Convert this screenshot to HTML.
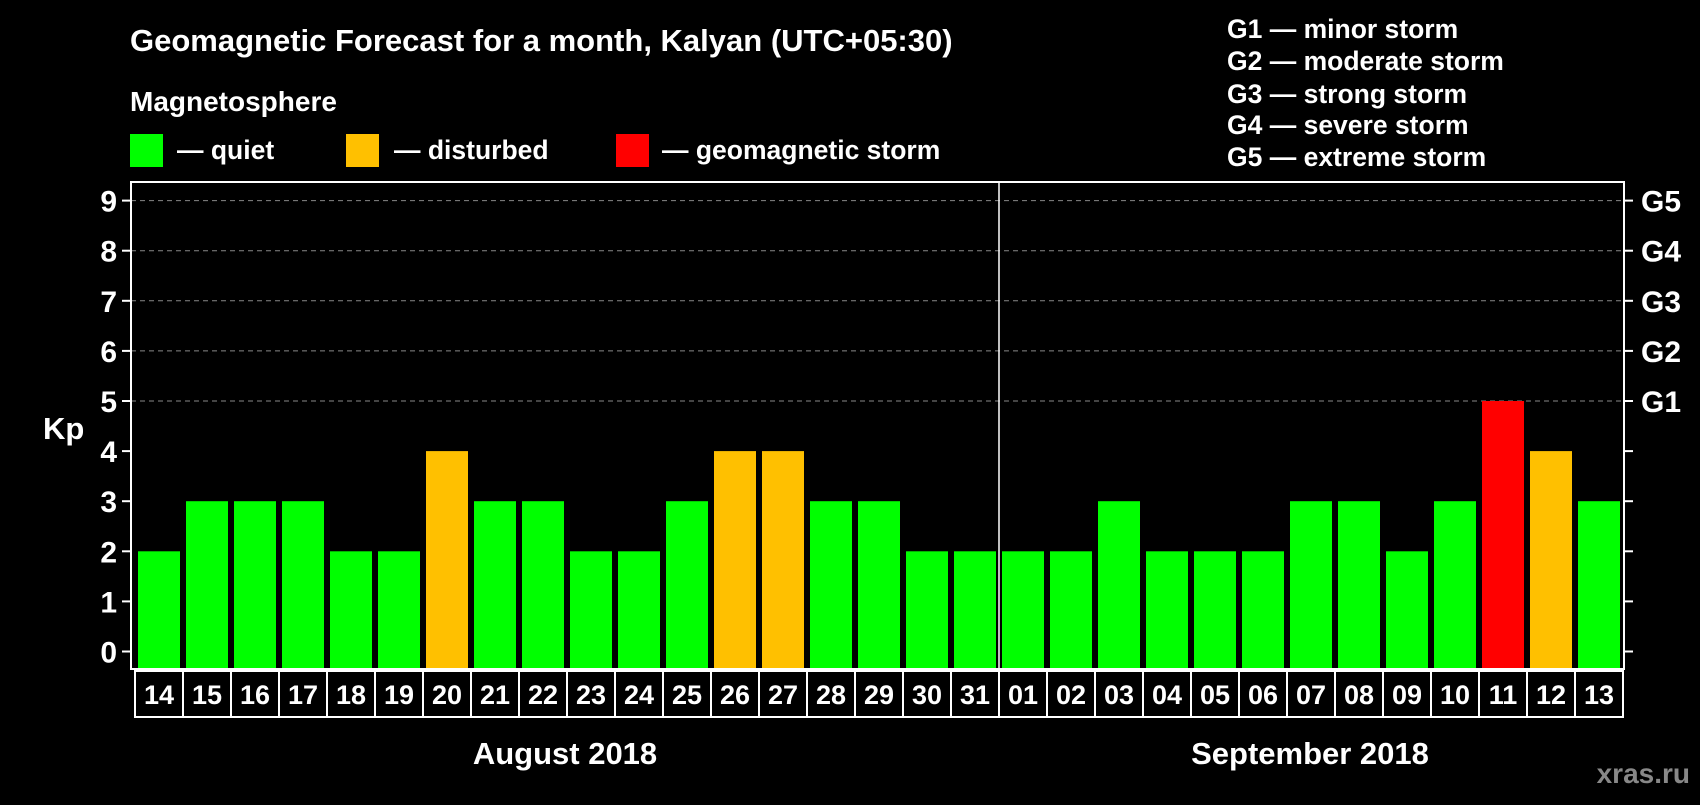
<!DOCTYPE html>
<html><head><meta charset="utf-8"><style>
body{margin:0;background:#000;width:1700px;height:800px;overflow:hidden;font-family:"Liberation Sans",sans-serif;}
</style></head><body>
<svg id="chart" width="1700" height="800" xmlns="http://www.w3.org/2000/svg" font-family="Liberation Sans, sans-serif" font-weight="bold">
<rect width="1700" height="800" fill="#000"/>
<text x="130" y="51" fill="#fff" font-size="31">Geomagnetic Forecast for a month, Kalyan (UTC+05:30)</text>
<text x="130" y="111" fill="#fff" font-size="28">Magnetosphere</text>
<g><rect x="130" y="134" width="33" height="33" fill="#00ff00"/><text x="177" y="159" fill="#fff" font-size="26.5">— quiet</text></g>
<g><rect x="346" y="134" width="33" height="33" fill="#ffc000"/><text x="394" y="159" fill="#fff" font-size="26.5">— disturbed</text></g>
<g><rect x="616" y="134" width="33" height="33" fill="#ff0000"/><text x="662" y="159" fill="#fff" font-size="26.5">— geomagnetic storm</text></g>
<g fill="#fff" font-size="26.5">
<text x="1227" y="38">G1 — minor storm</text>
<text x="1227" y="70">G2 — moderate storm</text>
<text x="1227" y="103">G3 — strong storm</text>
<text x="1227" y="134">G4 — severe storm</text>
<text x="1227" y="166">G5 — extreme storm</text>
</g>
<text x="43" y="439" fill="#fff" font-size="31">Kp</text>
<text x="565" y="764" fill="#fff" font-size="31" text-anchor="middle">August 2018</text>
<text x="1310" y="764" fill="#fff" font-size="31" text-anchor="middle">September 2018</text>
<text x="1690" y="783" fill="#888" font-size="28" text-anchor="end">xras.ru</text>
<g id="plot"></g>
</svg>
<script>
const days = ["14","15","16","17","18","19","20","21","22","23","24","25","26","27","28","29","30","31","01","02","03","04","05","06","07","08","09","10","11","12","13"];
const kpValues = [2,3,3,3,2,2,4,3,3,2,2,3,4,4,3,3,2,2,2,2,3,2,2,2,3,3,2,3,5,4,3];
const yTicks = [0,1,2,3,4,5,6,7,8,9];
const gLabels = ["G1","G2","G3","G4","G5"];
const gLevels = [5,6,7,8,9];
const NS="http://www.w3.org/2000/svg";
const g=document.getElementById('plot');
const L=131,R=1624,T=182,B=669, cell0=135, cellW=48;
const y=v=>651.5-v*50.1;
const xCell=i=>cell0+i*cellW;
function mk(tag,attrs,parent){const e=document.createElementNS(NS,tag);for(const k in attrs)e.setAttribute(k,attrs[k]);(parent||g).appendChild(e);return e;}
yTicks.forEach(v=>{
  if(v>=5){const gl=mk('line',{x1:L,x2:R,y1:y(v),y2:y(v),stroke:'#888','stroke-dasharray':'5,4','stroke-width':1});
  
  }
  const t1=mk('line',{x1:L-9,x2:L,y1:y(v),y2:y(v),stroke:'#fff','stroke-width':2});
  
  
  const t2=mk('line',{x1:R,x2:R+9,y1:y(v),y2:y(v),stroke:'#fff','stroke-width':2});
  
  
  const lb=mk('text',{x:117,y:y(v)+11,fill:'#fff','font-size':30,'text-anchor':'end'});
  lb.textContent=v;
  
  
});
gLabels.forEach((s,i)=>{
  const t=mk('text',{x:1641,y:y(gLevels[i])+11,fill:'#fff','font-size':30});
  t.textContent=s;
  
  
});
kpValues.forEach((v,i)=>{
  const c=v>=5?'#ff0000':(v>=4?'#ffc000':'#00ff00');
  const b=mk('rect',{x:xCell(i)+3,y:y(v),width:42,height:B-y(v),fill:c});
  
  
  const box=mk('rect',{x:xCell(i),y:671,width:cellW,height:46,fill:'none',stroke:'#fff','stroke-width':2});
  
  
  const t=mk('text',{x:xCell(i)+cellW/2,y:704,fill:'#fff','font-size':27,'text-anchor':'middle'});
  t.textContent=days[i];
  
  
});
const frame=mk('rect',{x:L,y:T,width:R-L,height:B-T,fill:'none',stroke:'#fff','stroke-width':2});


const sepIdx=days.indexOf("01");
const sep=mk('line',{x1:xCell(sepIdx),x2:xCell(sepIdx),y1:T,y2:B,stroke:'#fff','stroke-width':1.5});


</script>
</body></html>
